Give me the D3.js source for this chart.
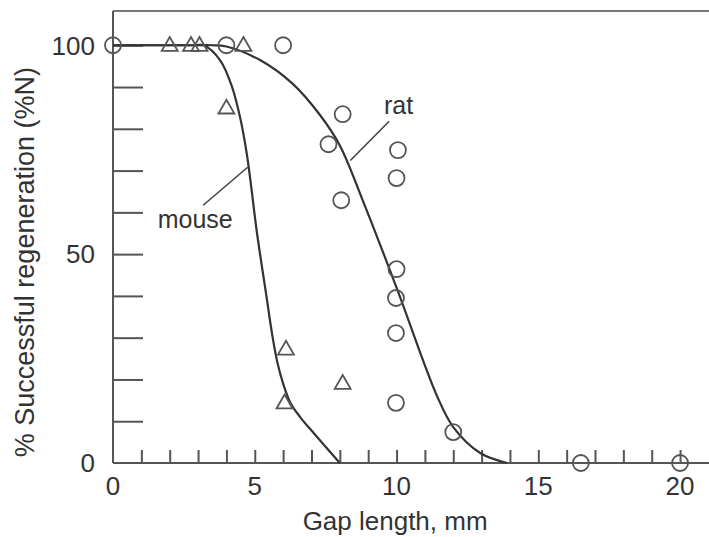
<!DOCTYPE html>
<html>
<head>
  <meta charset="utf-8">
  <title>Gap length vs regeneration</title>
  <script src="https://d3js.org/d3.v7.min.js"></script>
  <style>
    body { margin: 0; background: #fff; }
    text { font-family: "Liberation Sans", Arial, sans-serif; fill: #333; }
    .axis path, .axis line { fill: none; stroke: #555; stroke-width: 2; }
    .fit { fill: none; stroke: #333; stroke-width: 2.2; }
    .marker { fill: none; stroke: #555; stroke-width: 1.8; }
  </style>
</head>
<body>
  <svg width="709" height="537"></svg>

  <script>
    // measured points (gap length mm, % successful)
    var ratX = [0, 4, 6, 7.6, 8.1, 8.05, 10.05, 10, 10, 9.98, 9.98, 9.98, 12, 16.5, 20];
    var ratY = [100, 100, 100, 76.3, 83.5, 62.9, 74.9, 68.2, 46.4, 39.5, 31.1, 14.4, 7.4, 0, 0];
    var mouseX = [2, 2.75, 3.05, 4.6, 4, 6.1, 6.05, 8.1];
    var mouseY = [100, 100, 100, 100, 85, 27.3, 14.4, 19.1];

    // fitted curves
    var ratFitX = [0, 2, 3, 3.5, 4, 5.2, 6.35, 7.3, 8, 8.8, 10, 11.43, 12, 12.95, 13.9];
    var ratFitY = [100, 100, 100, 100, 99.7, 96.4, 90.7, 83.3, 76, 63, 42, 16, 8.6, 2.4, 0];
    var mouseFitX = [0, 2, 2.9, 3.2, 3.78, 4.2, 4.48, 4.73, 5.08, 5.41, 5.62, 5.8, 6.0, 6.25, 6.6, 7.1, 8.0];
    var mouseFitY = [100, 100, 100, 100, 96.4, 90, 82.8, 73.5, 55, 40, 30.5, 24, 19, 14.5, 11, 7, 0];

    var xTicks = d3.range(0, 21, 1);
    var xLabels = [0, 5, 10, 15, 20];
    var yTicks = d3.range(0, 101, 10);
    var yLabels = [0, 50, 100];

    var margin = { top: 11, right: 0, bottom: 74, left: 113 };
    var width = 709 - margin.left - margin.right;
    var height = 537 - margin.top - margin.bottom;

    var x = d3.scaleLinear().domain([0, 21.02]).range([0, width]);
    var y = d3.scaleLinear().domain([0, 108.2]).range([height, 0]);

    var svg = d3.select("svg")
      .append("g")
      .attr("transform", "translate(" + margin.left + "," + margin.top + ")");

    // top frame line
    svg.append("line")
      .attr("x1", 0).attr("x2", width).attr("y1", 0).attr("y2", 0)
      .attr("stroke", "#777").attr("stroke-width", 2);

    // x axis, ticks pointing inward
    var xAxis = svg.append("g")
      .attr("class", "x axis")
      .attr("transform", "translate(0," + height + ")")
      .call(d3.axisBottom(x).tickValues(xTicks).tickSize(-13).tickSizeOuter(0).tickFormat(""));
    xAxis.select(".domain").attr("d", "M0,0H" + width);
    xAxis.selectAll(".tick").filter(function(d) { return d === 0; }).remove();

    svg.selectAll(".xlab")
      .data(xLabels)
      .enter().append("text")
      .attr("x", function(d) { return x(d); })
      .attr("y", height + 32)
      .attr("text-anchor", "middle")
      .style("font-size", "26px")
      .text(function(d) { return d; });

    var yAxis = svg.append("g")
      .attr("class", "y axis")
      .call(d3.axisLeft(y).tickValues(yTicks).tickSize(-30).tickSizeOuter(0).tickFormat(""));
    yAxis.select(".domain").attr("d", "M0,0V" + height);
    yAxis.selectAll(".tick").filter(function(d) { return d === 0; }).remove();

    svg.selectAll(".ylab")
      .data(yLabels)
      .enter().append("text")
      .attr("x", -18)
      .attr("y", function(d) { return y(d); })
      .attr("dy", "0.36em")
      .attr("text-anchor", "end")
      .style("font-size", "26px")
      .text(function(d) { return d; });

    // axis titles
    svg.append("text")
      .attr("x", x(9.95))
      .attr("y", height + 67)
      .attr("text-anchor", "middle")
      .style("font-size", "26px")
      .text("Gap length, mm");

    svg.append("text")
      .attr("transform", "translate(" + (-79) + "," + (y(50) + 8) + ") rotate(-90)")
      .attr("text-anchor", "middle")
      .style("font-size", "27px")
      .text("% Successful regeneration (%N)");

    // fitted curves
    var line = d3.line()
      .x(function(d) { return x(d[0]); })
      .y(function(d) { return y(d[1]); })
      .curve(d3.curveCatmullRom.alpha(0.5));

    svg.append("path").attr("class", "fit")
      .attr("d", line(d3.zip(ratFitX, ratFitY)));
    svg.append("path").attr("class", "fit")
      .attr("d", line(d3.zip(mouseFitX, mouseFitY)));

    // rat: circles
    svg.selectAll(".rat")
      .data(d3.zip(ratX, ratY))
      .enter().append("circle")
      .attr("class", "marker")
      .attr("cx", function(d) { return x(d[0]); })
      .attr("cy", function(d) { return y(d[1]); })
      .attr("r", 8);

    // mouse: triangles
    var tri = d3.symbol().type(d3.symbolTriangle).size(110);
    svg.selectAll(".mouse")
      .data(d3.zip(mouseX, mouseY))
      .enter().append("path")
      .attr("class", "marker")
      .attr("d", tri)
      .attr("transform", function(d) { return "translate(" + x(d[0]) + "," + (y(d[1]) + 1) + ")"; });

    // curve labels with leader lines
    var labels = [
      { name: "rat", from: [8.37, 72.4], to: [9.74, 81.8], at: [10.07, 83.5] },
      { name: "mouse", from: [4.75, 70.8], to: [3.18, 61.7], at: [2.9, 56.2] }
    ];
    labels.forEach(function(l) {
      svg.append("line")
        .attr("x1", x(l.from[0])).attr("y1", y(l.from[1]))
        .attr("x2", x(l.to[0])).attr("y2", y(l.to[1]))
        .attr("stroke", "#444").attr("stroke-width", 1.6);
      svg.append("text")
        .attr("x", x(l.at[0])).attr("y", y(l.at[1]))
        .attr("text-anchor", "middle")
        .style("font-size", "25px")
        .text(l.name);
    });
  </script>
</body>
</html>
